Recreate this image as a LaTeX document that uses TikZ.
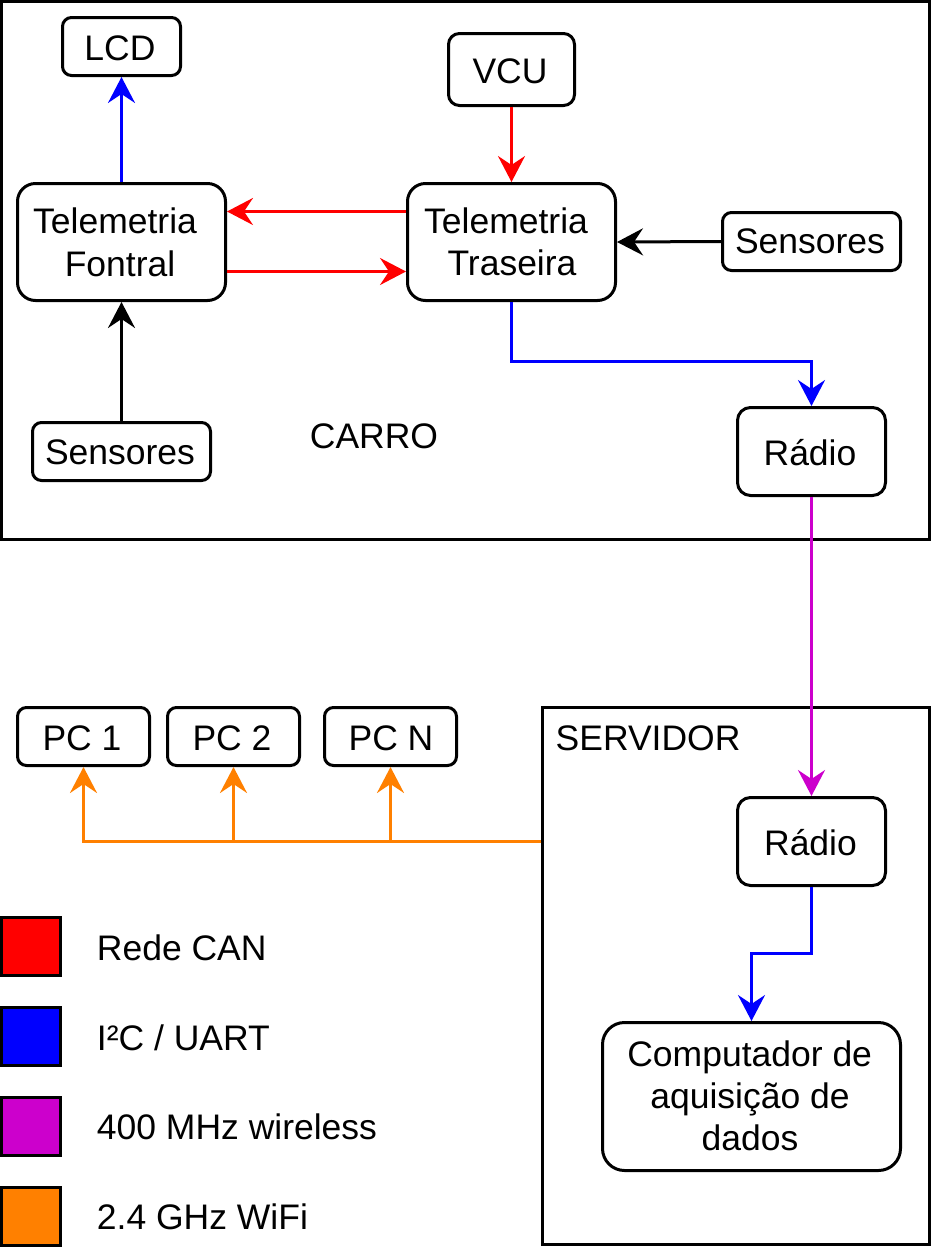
\documentclass[tikz,border=0pt]{standalone}
\usepackage{fontspec}
\setmainfont{Liberation Sans}
\usetikzlibrary{arrows.meta}
\definecolor{canred}{HTML}{FF0000}
\definecolor{iicblue}{HTML}{0000FF}
\definecolor{wlmag}{HTML}{CC00CC}
\definecolor{wifiorange}{HTML}{FF8000}
\begin{document}
\begin{tikzpicture}[x=1pt,y=-1pt,
  >={Stealth[length=26pt,width=27pt,inset=9pt]},
  box/.style={draw=black, line width=3pt, rounded corners=#1, fill=white, inner sep=0pt},
  container/.style={draw=black, line width=3pt, inner sep=0pt},
  legsq/.style={draw=black, line width=3pt, inner sep=0pt, minimum width=59pt, minimum height=58pt},
  lbl/.style={inner sep=0pt, font=\fontsize{35.5}{42}\selectfont, anchor=base},
  conn/.style={line width=3pt, ->},
  can/.style={conn, draw=canred},
  iic/.style={conn, draw=iicblue},
  wl/.style={conn, draw=wlmag},
  wifi/.style={conn, draw=wifiorange},
  blk/.style={conn, draw=black}]
\useasboundingbox (0,0) rectangle (933,1251);

% containers
\node[container, minimum width=928pt, minimum height=538pt] (carro) at (465.5,270.5) {};
\node[container, minimum width=387pt, minimum height=537pt] (srv) at (736,976) {};

% boxes
\node[box=9pt,  minimum width=118pt, minimum height=58pt]  (lcd) at (121.5,46.5) {};
\node[box=11pt, minimum width=126pt, minimum height=72pt]  (vcu) at (511.5,69.5) {};
\node[box=18pt, minimum width=208pt, minimum height=117pt] (tf) at (121.5,242) {};
\node[box=18pt, minimum width=208pt, minimum height=117pt] (tr) at (511.5,242) {};
\node[box=9pt,  minimum width=178pt, minimum height=58pt]  (sr) at (811.5,241.5) {};
\node[box=9pt,  minimum width=178pt, minimum height=58pt]  (sl) at (121.5,451.5) {};
\node[box=13pt, minimum width=148pt, minimum height=88pt]  (rc) at (811.5,451.5) {};
\node[box=13pt, minimum width=148pt, minimum height=88pt]  (rs) at (811.5,841.5) {};
\node[box=22pt, minimum width=298pt, minimum height=148pt] (comp) at (751.5,1096.5) {};
\node[box=9pt,  minimum width=132pt, minimum height=58pt]  (pc1) at (83.5,736.5) {};
\node[box=9pt,  minimum width=132pt, minimum height=58pt]  (pc2) at (233.5,736.5) {};
\node[box=9pt,  minimum width=132pt, minimum height=58pt]  (pcn) at (390.5,736.5) {};

% texts
\node[lbl] (tlcd) at (120,60) {LCD};
\node[lbl] (tvcu) at (510,83.3) {VCU};
\node[lbl] (tf1) at (115,233.3) {Telemetria};
\node[lbl] (tf2) at (120,276) {Fontral};
\node[lbl] (tr1) at (506,233.3) {Telemetria};
\node[lbl] (tr2) at (512,275.5) {Traseira};
\node[lbl] (tsr) at (810,253.3) {Sensores};
\node[lbl] (tsl) at (120,464.3) {Sensores};
\node[lbl] (tcarro) at (374,448) {CARRO};
\node[lbl] (trc) at (810,465) {Rádio};
\node[lbl, anchor=base west] (tsrv) at (555.5,750) {SERVIDOR};
\node[lbl] (trs) at (810.5,855) {Rádio};
\node[lbl] (tc1) at (749.7,1066.7) {Computador de};
\node[lbl] (tc2) at (750,1108.3) {aquisição de};
\node[lbl] (tc3) at (750,1150) {dados};
\node[lbl] (tpc1) at (82,750) {PC 1};
\node[lbl] (tpc2) at (232,750) {PC 2};
\node[lbl] (tpcn) at (391,750) {PC N};

% connectors
\draw[iic] (tf.north) -- (lcd.south);
\draw[can] (vcu.south) -- (tr.north);
\draw[can] ([yshift=30.5pt]tr.west) -- ([yshift=30.5pt]tf.east);
\draw[can] ([yshift=-29.5pt]tf.east) -- ([yshift=-29.5pt]tr.west);
\draw[blk] (sl.north) -- (tf.south);
\draw[blk] (sr.west) -- (tr.east);
\draw[iic] (tr.south) -- ++(0,59.5) -| (rc.north);
\draw[wl] (rc.south) -- (rs.north);
\draw[iic] (rs.south) -- ++(0,66.5) -| (comp.north);
\coordinate (wj) at (srv.west |- rs.center);
\draw[wifi] (wj) -| (pc1.south);
\draw[wifi] (wj) -| (pc2.south);
\draw[wifi] (wj) -| (pcn.south);

% legend
\node[legsq, fill=canred] (l1) at (31,946.5) {};
\node[legsq, fill=iicblue] (l2) at (31,1036.5) {};
\node[legsq, fill=wlmag] (l3) at (31,1126.5) {};
\node[legsq, fill=wifiorange] (l4) at (31,1216.5) {};
\node[lbl, anchor=base west] (tl1) at (96.7,960) {Rede CAN};
\node[lbl, anchor=base west] (tl2) at (96.7,1050) {I²C / UART};
\node[lbl, anchor=base west] (tl3) at (96.7,1139.5) {400 MHz wireless};
\node[lbl, anchor=base west] (tl4) at (96.7,1229.3) {2.4 GHz WiFi};
\end{tikzpicture}
\end{document}
